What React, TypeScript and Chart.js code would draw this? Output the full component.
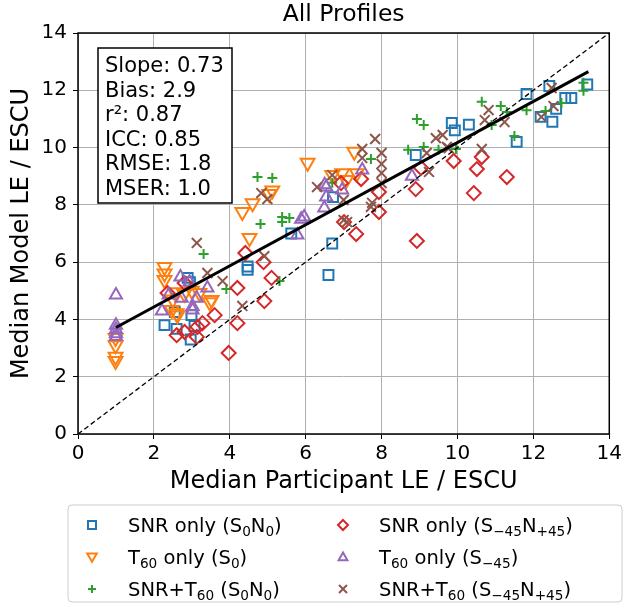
import React, { useEffect, useRef } from 'react';
import { Chart, registerables } from 'chart.js';
Chart.register(...registerables);

type P = [number, number];

const xTicks = [0, 2, 4, 6, 8, 10, 12, 14];
const yTicks = [0, 2, 4, 6, 8, 10, 12, 14];

const snrS0N0: P[] = [
  [2.28, 3.8], [2.6, 3.67], [2.97, 3.3], [3.07, 3.77], [2.89, 5.45], [2.95, 5.3], [2.99, 4.15], [2.55, 4.26],
  [4.47, 5.73], [4.47, 5.85], [5.62, 7.0], [6.7, 6.65], [6.6, 5.55], [6.72, 8.27], [8.9, 9.74], [9.85, 10.86],
  [9.93, 10.6], [10.3, 10.8], [11.56, 10.2], [11.82, 11.87], [12.19, 11.07], [12.42, 12.15], [12.5, 10.9],
  [12.6, 11.35], [12.84, 11.73], [13.0, 11.73], [13.42, 12.2],
];
const t60S0: P[] = [
  [0.99, 3.35], [0.99, 3.1], [0.99, 2.7], [0.99, 2.55], [2.28, 5.83], [2.28, 5.6], [2.28, 5.38], [2.5, 4.7],
  [2.55, 4.95], [2.47, 4.33], [2.62, 4.15], [2.6, 4.22], [3.2, 4.92], [3.47, 4.6], [3.52, 4.68], [4.52, 6.84],
  [4.33, 7.75], [4.6, 8.06], [5.04, 8.38], [5.12, 8.5], [6.05, 9.47], [6.7, 9.04], [6.96, 9.1], [7.07, 8.87],
  [7.35, 9.1], [7.28, 9.85], [2.8, 4.9], [3.0, 5.0],
];
const snrT60S0N0: P[] = [
  [3.31, 6.28], [3.91, 5.06], [5.31, 5.34], [4.73, 8.97], [5.12, 8.94], [4.81, 7.33], [5.38, 7.58], [5.38, 7.4],
  [5.57, 7.54], [6.7, 8.77], [7.72, 9.6], [8.7, 9.92], [8.93, 11.0], [9.11, 10.79], [9.11, 10.02], [9.5, 9.92],
  [9.96, 9.95], [10.64, 11.6], [10.9, 10.79], [11.14, 11.45], [11.3, 11.24], [11.5, 10.4], [11.82, 11.3],
  [12.32, 11.28], [12.74, 11.56], [13.32, 12.26], [13.32, 11.98],
];
const snrS45N45: P[] = [
  [2.36, 4.92], [2.6, 3.45], [2.81, 3.56], [2.81, 5.27], [3.13, 3.39], [3.15, 3.74], [3.28, 3.87], [3.6, 4.15],
  [3.97, 2.83], [4.2, 3.87], [4.2, 5.1], [4.41, 6.32], [4.89, 6.0], [4.91, 4.64], [5.1, 5.45], [6.93, 8.76],
  [7.01, 7.4], [7.33, 6.98], [7.46, 8.9], [7.93, 8.45], [7.93, 7.75], [8.9, 8.55], [8.93, 6.74], [9.04, 9.29],
  [9.9, 9.53], [10.43, 8.41], [10.51, 9.25], [10.64, 9.67], [11.3, 8.97],
];
const t60S45: P[] = [
  [1.0, 4.85], [1.0, 3.8], [1.0, 3.65], [1.0, 3.5], [1.0, 3.4], [2.21, 4.29], [2.39, 4.85], [2.7, 5.48],
  [2.73, 4.74], [2.94, 5.31], [3.02, 4.33], [3.02, 4.45], [3.13, 4.74], [3.41, 5.1], [5.78, 6.95], [5.88, 7.5],
  [5.96, 7.58], [6.49, 7.89], [6.54, 8.27], [6.54, 8.62], [6.5, 8.7], [6.96, 8.52], [7.49, 9.22], [8.8, 9.0],
];
const snrT60S45N45: P[] = [
  [3.13, 6.67], [3.41, 5.62], [3.81, 5.34], [4.33, 4.47], [4.91, 6.21], [4.83, 8.41], [4.99, 8.2], [6.3, 8.62],
  [6.7, 9.04], [7.0, 8.17], [7.0, 7.47], [7.09, 7.4], [7.49, 9.64], [7.49, 9.95], [7.83, 10.3], [8.0, 9.81],
  [8.0, 9.43], [8.0, 9.11], [8.0, 8.76], [7.75, 8.07], [7.72, 7.93], [9.19, 9.81], [9.25, 9.15], [9.43, 10.33],
  [9.61, 10.44], [9.72, 10.02], [9.77, 9.98], [10.64, 9.95], [10.72, 10.96], [10.82, 11.31], [11.24, 10.89],
  [12.21, 11.07], [12.48, 12.08], [12.53, 11.45],
];
const fitLine: P[] = [[1.0, 3.72], [13.45, 12.65]];
const identityLine: P[] = [[0, 0], [14, 14]];

const statsLines = ['Slope: 0.73', 'Bias: 2.9', 'r\u00b2: 0.87', 'ICC: 0.85', 'RMSE: 1.8', 'MSER: 1.0'];
const seriesLabels = [
  'SNR only (S_0N_0)',
  'T_60 only (S_0)',
  'SNR+T_60 (S_0N_0)',
  'SNR only (S_\u221245N_+45)',
  'T_60 only (S_\u221245)',
  'SNR+T_60 (S_\u221245N_+45)',
];
const colors = ['#1f77b4', '#ff7f0e', '#2ca02c', '#d62728', '#9467bd', '#8c564b'];
const shapes = ['square', 'triDown', 'plus', 'diamond', 'triUp', 'x'];

const FONT = '"DejaVu Sans", sans-serif';

function toPts(a: P[]) {
  return a.map(([x, y]) => ({ x, y }));
}

function drawMarker(ctx: CanvasRenderingContext2D, shape: string, x: number, y: number, s: number, color: string) {
  ctx.save();
  ctx.strokeStyle = color;
  ctx.lineWidth = 2;
  ctx.beginPath();
  if (shape === 'square') {
    ctx.rect(x - s / 2, y - s / 2, s, s);
  } else if (shape === 'diamond') {
    ctx.moveTo(x, y - s / 1.6); ctx.lineTo(x + s / 1.6, y); ctx.lineTo(x, y + s / 1.6); ctx.lineTo(x - s / 1.6, y); ctx.closePath();
  } else if (shape === 'triDown') {
    ctx.moveTo(x - s * 0.6, y - s * 0.45); ctx.lineTo(x + s * 0.6, y - s * 0.45); ctx.lineTo(x, y + s * 0.6); ctx.closePath();
  } else if (shape === 'triUp') {
    ctx.moveTo(x - s * 0.55, y + s * 0.4); ctx.lineTo(x + s * 0.55, y + s * 0.4); ctx.lineTo(x, y - s * 0.55); ctx.closePath();
  } else if (shape === 'plus') {
    ctx.moveTo(x - s / 2, y); ctx.lineTo(x + s / 2, y); ctx.moveTo(x, y - s / 2); ctx.lineTo(x, y + s / 2);
  } else if (shape === 'x') {
    ctx.moveTo(x - s / 2, y - s / 2); ctx.lineTo(x + s / 2, y + s / 2); ctx.moveTo(x + s / 2, y - s / 2); ctx.lineTo(x - s / 2, y + s / 2);
  }
  ctx.stroke();
  ctx.restore();
}

function drawRichText(ctx: CanvasRenderingContext2D, text: string, x: number, y: number, size: number) {
  const parts: { t: string; sub: boolean }[] = [];
  let i = 0;
  let cur = '';
  while (i < text.length) {
    if (text[i] === '_') {
      if (cur) parts.push({ t: cur, sub: false });
      cur = '';
      i++;
      let s = '';
      while (i < text.length && /[0-9\u2212+]/.test(text[i])) { s += text[i]; i++; }
      parts.push({ t: s, sub: true });
    } else {
      cur += text[i];
      i++;
    }
  }
  if (cur) parts.push({ t: cur, sub: false });
  let cx = x;
  ctx.textAlign = 'left';
  ctx.textBaseline = 'alphabetic';
  for (const p of parts) {
    if (p.sub) {
      ctx.font = `${size * 0.7}px ${FONT}`;
      ctx.fillText(p.t, cx, y + size * 0.22);
    } else {
      ctx.font = `${size}px ${FONT}`;
      ctx.fillText(p.t, cx, y);
    }
    cx += ctx.measureText(p.t).width;
  }
}

const overlay = {
  id: 'overlay',
  afterDraw(chart: any) {
    const ctx: CanvasRenderingContext2D = chart.ctx;
    const a = chart.chartArea;
    const cxm = (a.left + a.right) / 2;
    ctx.save();
    ctx.strokeStyle = '#000';
    ctx.lineWidth = 1.5;
    ctx.strokeRect(a.left, a.top, a.right - a.left, a.bottom - a.top);
    ctx.fillStyle = '#000';
    ctx.textAlign = 'center';
    ctx.textBaseline = 'middle';
    ctx.font = `23.5px ${FONT}`;
    ctx.fillText('All Profiles', cxm, 15);
    ctx.font = `24px ${FONT}`;
    ctx.fillText('Median Participant LE / ESCU', cxm, 482);
    ctx.save();
    ctx.translate(22, (a.top + a.bottom) / 2);
    ctx.rotate(-Math.PI / 2);
    ctx.fillText('Median Model LE / ESCU', 0, 0);
    ctx.restore();
    // stats box
    ctx.fillStyle = '#fff';
    ctx.fillRect(98, 48, 134, 155);
    ctx.strokeStyle = '#000';
    ctx.lineWidth = 1.5;
    ctx.strokeRect(98, 48, 134, 155);
    ctx.fillStyle = '#000';
    ctx.font = `21px ${FONT}`;
    ctx.textAlign = 'left';
    ctx.textBaseline = 'middle';
    statsLines.forEach((s, i) => ctx.fillText(s, 105, 67 + i * 24.5));
    // legend box
    const lx = 68, ly = 505, lw = 554, lh = 97, r = 4;
    ctx.beginPath();
    ctx.moveTo(lx + r, ly);
    ctx.arcTo(lx + lw, ly, lx + lw, ly + lh, r);
    ctx.arcTo(lx + lw, ly + lh, lx, ly + lh, r);
    ctx.arcTo(lx, ly + lh, lx, ly, r);
    ctx.arcTo(lx, ly, lx + lw, ly, r);
    ctx.closePath();
    ctx.fillStyle = 'rgba(255,255,255,0.8)';
    ctx.fill();
    ctx.strokeStyle = '#cccccc';
    ctx.lineWidth = 1;
    ctx.stroke();
    const rowsY = [525, 557, 589];
    const markX = [92, 343];
    const textX = [128, 379];
    seriesLabels.forEach((lab, i) => {
      const col = Math.floor(i / 3);
      const row = i % 3;
      drawMarker(ctx, shapes[i], markX[col], rowsY[row], 8, colors[i]);
      ctx.fillStyle = '#000';
      drawRichText(ctx, lab, textX[col], rowsY[row] + 7, 19.5);
    });
    ctx.restore();
  },
};

export default function App() {
  const ref = useRef<HTMLCanvasElement>(null);
  useEffect(() => {
    document.body.style.margin = '0';
    const common = { showLine: false, pointBorderWidth: 2, pointBackgroundColor: 'rgba(0,0,0,0)' };
    const chart = new Chart(ref.current!, {
      type: 'scatter',
      data: {
        datasets: [
          { label: 'fit', data: toPts(fitLine), showLine: true, borderColor: '#000', borderWidth: 3, pointRadius: 0, order: 0 },
          { label: 'id', data: toPts(identityLine), showLine: true, borderColor: '#000', borderWidth: 1.3, borderDash: [5, 3], pointRadius: 0, order: 1 },
          { label: 'b5', data: toPts(snrT60S45N45), pointStyle: 'crossRot', pointRadius: 7, borderColor: colors[5], order: 2, ...common },
          { label: 'b4', data: toPts(t60S45), pointStyle: 'triangle', pointRadius: 7, borderColor: colors[4], order: 3, ...common },
          { label: 'b3', data: toPts(snrS45N45), pointStyle: 'rectRot', pointRadius: 7, borderColor: colors[3], order: 4, ...common },
          { label: 'b2', data: toPts(snrT60S0N0), pointStyle: 'cross', pointRadius: 5, borderColor: colors[2], order: 5, ...common },
          { label: 'b1', data: toPts(t60S0), pointStyle: 'triangle', pointRotation: 180, pointRadius: 8, borderColor: colors[1], order: 6, ...common },
          { label: 'b0', data: toPts(snrS0N0), pointStyle: 'rect', pointRadius: 7, borderColor: colors[0], order: 7, ...common },
        ] as any,
      },
      options: {
        animation: false,
        responsive: true,
        maintainAspectRatio: false,
        layout: { padding: { top: 33, right: 14, bottom: 0, left: 0 } },
        plugins: { legend: { display: false }, tooltip: { enabled: false }, title: { display: false } },
        scales: {
          x: {
            type: 'linear', min: 0, max: 14,
            afterFit: (s: any) => { s.height = 175; },
            afterBuildTicks: (s: any) => { s.ticks = xTicks.map((v) => ({ value: v })); },
            grid: { color: '#b0b0b0', lineWidth: 1, tickColor: '#000', tickLength: 5, drawTicks: true },
            border: { display: false },
            ticks: { color: '#000', font: { family: 'DejaVu Sans', size: 20 }, padding: 3, maxRotation: 0 },
          },
          y: {
            type: 'linear', min: 0, max: 14,
            afterFit: (s: any) => { s.width = 78; },
            afterBuildTicks: (s: any) => { s.ticks = yTicks.map((v) => ({ value: v })); },
            grid: { color: '#b0b0b0', lineWidth: 1, tickColor: '#000', tickLength: 5, drawTicks: true },
            border: { display: false },
            ticks: { color: '#000', font: { family: 'DejaVu Sans', size: 20 }, padding: 6 },
          },
        },
      } as any,
      plugins: [overlay],
    });
    return () => chart.destroy();
  }, []);
  return (
    <div style={{ width: 625, height: 609, position: 'relative' }}>
      <canvas ref={ref} />
    </div>
  );
}
